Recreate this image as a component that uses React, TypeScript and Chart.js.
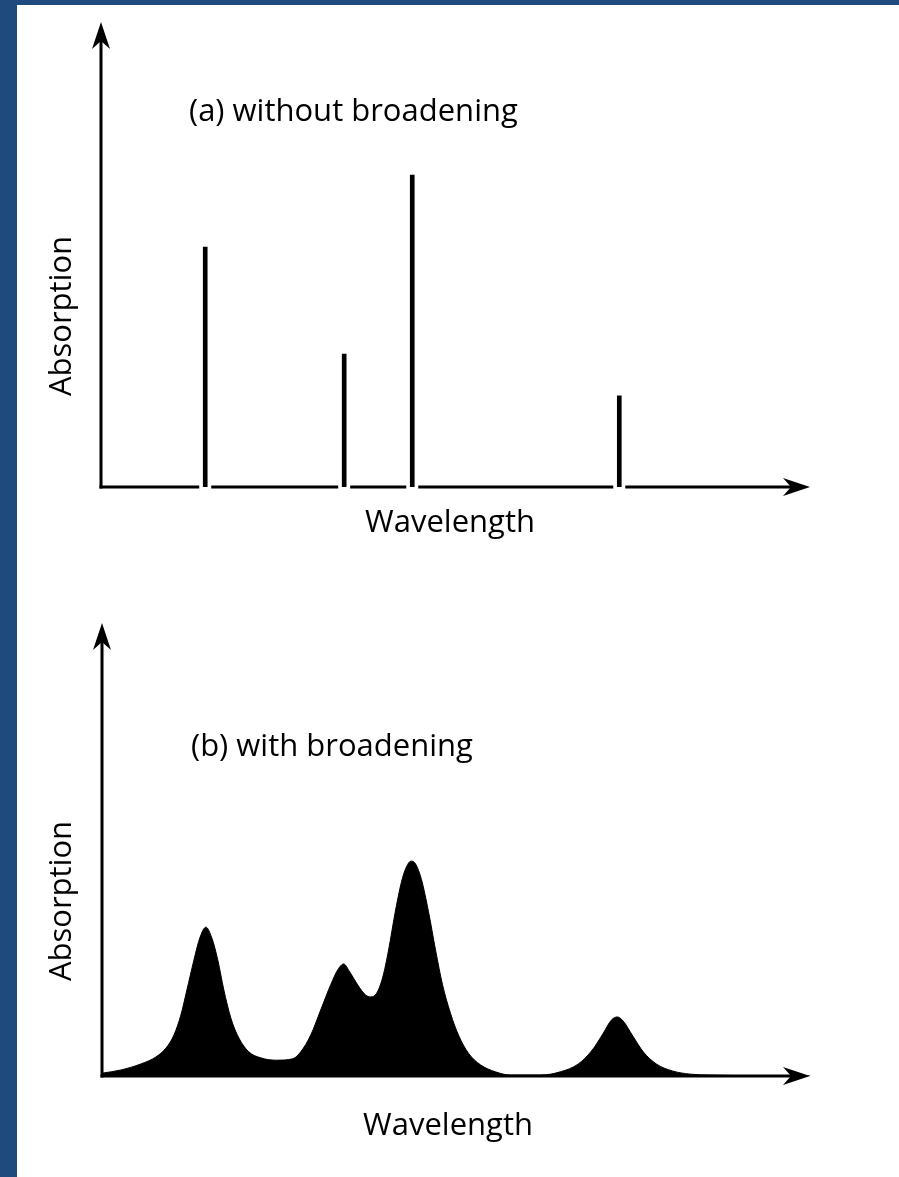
import React, { useEffect, useRef } from "react";
import { Chart, registerables } from "chart.js";

Chart.register(...registerables);

// ---- data ----
const lineWavelengths = [14.7, 34.3, 43.9, 73.1];
const lineIntensities = [51.6, 28.6, 67.1, 19.6];

const broadX = [0, 2.68, 5.5, 7.62, 9.03, 10.16, 11.14, 11.99, 12.98, 13.82, 14.67, 15.51, 16.36, 17.21, 18.19, 19.32, 20.73, 22.43, 24.54, 26.94, 28.07, 29.48, 30.89, 32.3, 33.29, 34.13, 34.98, 36.11, 37.24, 37.94, 38.79, 39.63, 40.48, 41.47, 42.45, 43.3, 43.72, 44.29, 45.13, 46.12, 47.11, 48.1, 49.22, 50.35, 51.76, 53.46, 55.57, 57.69, 61.92, 64.74, 67.28, 69.25, 70.8, 71.93, 72.78, 73.62, 74.89, 76.45, 78.28, 80.54, 83.07, 85.9, 100];
const broadY = [0.6, 1.3, 2.6, 4.1, 6.0, 8.8, 13.1, 18.5, 24.9, 29.7, 32.0, 29.7, 24.9, 18.5, 12.5, 8.2, 5.2, 3.9, 3.4, 3.7, 5.2, 8.8, 14.2, 19.6, 22.8, 24.1, 22.4, 19.6, 17.4, 17.0, 17.8, 21.1, 27.1, 35.7, 42.6, 45.8, 46.2, 45.6, 42.2, 35.3, 27.1, 19.6, 13.5, 8.8, 4.9, 2.4, 0.9, 0.2, 0.2, 0.9, 2.6, 5.6, 9.2, 12.0, 12.7, 11.8, 8.8, 5.2, 2.6, 1.1, 0.4, 0.2, 0];

const xAxisLabel = "Wavelength";
const yAxisLabel = "Absorption";
const titleA = "(a) without broadening";
const titleB = "(b) with broadening";

const FONT = '500 31px "Open Sans", "Noto Sans", sans-serif';

type PanelOpts = {
  title: string;
  titleX: number;
  titleY: number;
  xLabelX: number;
  xLabelY: number;
  yLabelX: number;
  yLabelY: number;
  gaps?: number[];
};

function drawArrow(ctx: CanvasRenderingContext2D, tx: number, ty: number, dir: "up" | "right") {
  const len = 27, half = 9, notch = 19;
  ctx.beginPath();
  if (dir === "up") {
    ctx.moveTo(tx, ty);
    ctx.lineTo(tx + half, ty + len);
    ctx.lineTo(tx, ty + notch);
    ctx.lineTo(tx - half, ty + len);
  } else {
    ctx.moveTo(tx, ty);
    ctx.lineTo(tx - len, ty - half);
    ctx.lineTo(tx - notch, ty);
    ctx.lineTo(tx - len, ty + half);
  }
  ctx.closePath();
  ctx.fill();
}

function axesPlugin(o: PanelOpts) {
  return {
    id: "axesDecor",
    afterDatasetsDraw(chart: any) {
      const ctx: CanvasRenderingContext2D = chart.ctx;
      const { left, right, top, bottom } = chart.chartArea;
      ctx.save();
      ctx.fillStyle = "#000";
      ctx.strokeStyle = "#000";
      ctx.lineWidth = 3;
      // y axis
      ctx.beginPath();
      ctx.moveTo(left, bottom + 1.5);
      ctx.lineTo(left, top + 15);
      ctx.stroke();
      drawArrow(ctx, left, top, "up");
      // x axis with gaps around sticks
      const xs = chart.scales.x;
      const gapPx = (o.gaps || []).map((g) => xs.getPixelForValue(g)).sort((a, b) => a - b);
      let start = left - 1.5;
      ctx.beginPath();
      for (const g of gapPx) {
        ctx.moveTo(start, bottom);
        ctx.lineTo(g - 6, bottom);
        start = g + 6;
      }
      ctx.moveTo(start, bottom);
      ctx.lineTo(right - 15, bottom);
      ctx.stroke();
      drawArrow(ctx, right, bottom, "right");
      // texts
      ctx.font = FONT;
      ctx.fillStyle = "#000";
      ctx.textAlign = "left";
      ctx.textBaseline = "alphabetic";
      ctx.fillText(o.title, o.titleX, o.titleY);
      ctx.textAlign = "center";
      ctx.fillText(xAxisLabel, o.xLabelX, o.xLabelY);
      ctx.translate(o.yLabelX, o.yLabelY);
      ctx.rotate(-Math.PI / 2);
      ctx.fillText(yAxisLabel, 0, 0);
      ctx.restore();
    },
  };
}

function PanelA() {
  const ref = useRef<HTMLCanvasElement>(null);
  useEffect(() => {
    const chart = new Chart(ref.current!, {
      type: "bar",
      data: {
        datasets: [
          {
            data: lineWavelengths.map((x, i) => ({ x, y: lineIntensities[i] })),
            backgroundColor: "#000",
            barThickness: 4,
            grouped: false,
          } as any,
        ],
      },
      options: {
        animation: false,
        responsive: false,
        layout: { padding: { left: 101, right: 89, top: 22, bottom: 93 } },
        plugins: { legend: { display: false }, tooltip: { enabled: false } },
        scales: {
          x: { type: "linear", min: 0, max: 100, display: false, offset: false },
          y: { min: 0, max: 100, display: false },
        },
      },
      plugins: [
        axesPlugin({
          title: titleA,
          titleX: 189,
          titleY: 121,
          xLabelX: 450,
          xLabelY: 532,
          yLabelX: 71,
          yLabelY: 316,
          gaps: lineWavelengths,
        }),
      ],
    });
    return () => chart.destroy();
  }, []);
  return <canvas ref={ref} width={899} height={580} style={{ position: "absolute", left: 0, top: 0 }} />;
}

function PanelB() {
  const ref = useRef<HTMLCanvasElement>(null);
  useEffect(() => {
    const chart = new Chart(ref.current!, {
      type: "line",
      data: {
        datasets: [
          {
            data: broadX.map((x, i) => ({ x, y: broadY[i] })),
            backgroundColor: "#000",
            borderColor: "#000",
            borderWidth: 1,
            pointRadius: 0,
            fill: "origin",
            cubicInterpolationMode: "monotone",
          },
        ],
      },
      options: {
        animation: false,
        responsive: false,
        layout: { padding: { left: 102, right: 89, top: 43, bottom: 101 } },
        plugins: { legend: { display: false }, tooltip: { enabled: false } },
        scales: {
          x: { type: "linear", min: 0, max: 100, display: false },
          y: { min: 0, max: 97.4, display: false },
        },
      },
      plugins: [
        axesPlugin({
          title: titleB,
          titleX: 191,
          titleY: 756 - 580,
          xLabelX: 448,
          xLabelY: 1135 - 580,
          yLabelX: 71,
          yLabelY: 901 - 580,
        }),
      ],
    });
    return () => chart.destroy();
  }, []);
  return <canvas ref={ref} width={899} height={597} style={{ position: "absolute", left: 0, top: 580 }} />;
}

export default function App() {
  return (
    <div style={{ position: "absolute", left: 0, top: 0, width: 899, height: 1177, background: "#1f4a7e", overflow: "hidden" }}>
      <div style={{ position: "absolute", left: 17, top: 5, right: 0, bottom: 0, background: "#fff" }} />
      <PanelA />
      <PanelB />
    </div>
  );
}
